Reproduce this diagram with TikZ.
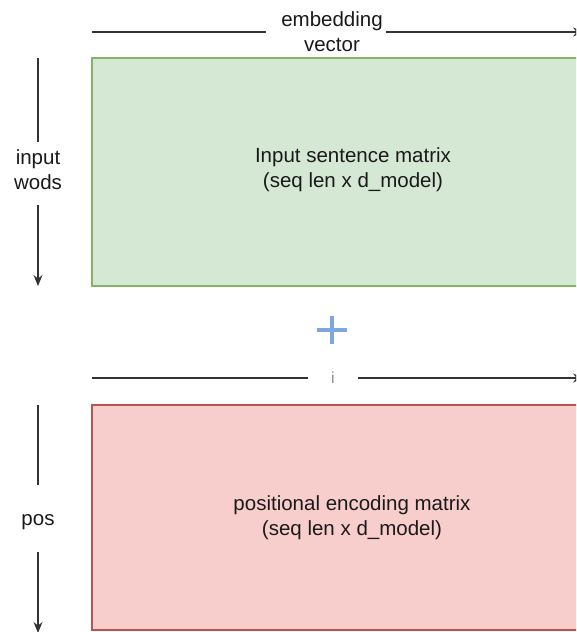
\documentclass[tikz,border=0pt]{standalone}
\usepackage{fontspec}
\setmainfont{Liberation Sans}
\usetikzlibrary{arrows.meta}
\definecolor{greenfill}{HTML}{D5E8D4}
\definecolor{greenline}{HTML}{82B366}
\definecolor{redfill}{HTML}{F8CECC}
\definecolor{redline}{HTML}{B85450}
\definecolor{plusblue}{HTML}{7EA6E0}
\definecolor{ink}{HTML}{1A1A1A}
\tikzset{
  lbl/.style={font=\fontsize{20.5}{25}\selectfont, text=ink, align=center, inner sep=0pt},
  gap/.style={inner sep=0pt, minimum width=#1},
  vgap/.style={inner sep=0pt, minimum height=#1, minimum width=1pt},
  axis/.style={draw=black!80, line width=1.1pt},
  axisarrow/.style={axis, -{Stealth[length=11pt,width=9pt]}},
  matgreen/.style={draw=greenline, fill=greenfill, line width=2pt},
  matred/.style={draw=redline, fill=redfill, line width=2pt},
  plusline/.style={draw=plusblue, line width=4pt},
}
\begin{document}
\begin{tikzpicture}[x=1pt, y=-1pt]
\useasboundingbox (0,0) rectangle (576,632);
\clip (0,0) rectangle (576,632);

% the two matrices
\draw[matgreen] (92,58) rectangle (620,286);
\draw[matred] (92,405) rectangle (620,630);
\node[lbl] (inmat) at (353,170) {Input sentence matrix\\(seq len x d\_model)};
\node[lbl] (pemat) at (352,518) {positional encoding matrix\\(seq len x d\_model)};

% embedding dimension axis
\coordinate (embL) at (92,32);
\coordinate (embR) at (584,32);
\node[lbl, gap=120] (emb) at (326,32) {\hspace*{12pt}embedding\\\hspace*{12pt}vector};
\draw[axis] (embL) -- (emb.west);
\draw[axisarrow] (emb.east) -- (embR);

% word axis: the label sits in the gap left between the two strokes
\coordinate (wT) at (38,58);
\coordinate (wB) at (38,286);
\node[vgap=63] (wgap) at (38,173.5) {};
\node[lbl] (wods) at (38,169.5) {input\\wods};
\draw[axis] (wT) -- (wgap.north);
\draw[axisarrow] (wgap.south) -- (wB);

% plus sign
\node[inner sep=0pt, minimum width=30pt, minimum height=28pt] (plus) at (332,330) {};
\draw[plusline] (plus.west) -- (plus.east);
\draw[plusline] (plus.north) -- (plus.south);

% i axis
\coordinate (iL) at (92,378);
\coordinate (iR) at (584,378);
\node[lbl, gap=50, font=\fontsize{16}{20}\selectfont, text=black!45] (iax) at (333,378) {i};
\draw[axis] (iL) -- (iax.west);
\draw[axisarrow] (iax.east) -- (iR);

% pos axis
\coordinate (pT) at (38,405);
\coordinate (pB) at (38,633);
\node[vgap=67] (pgap) at (38,518.5) {};
\node[lbl] (pos) at (38,522) {pos};
\draw[axis] (pT) -- (pgap.north);
\draw[axisarrow] (pgap.south) -- (pB);
\end{tikzpicture}
\end{document}
